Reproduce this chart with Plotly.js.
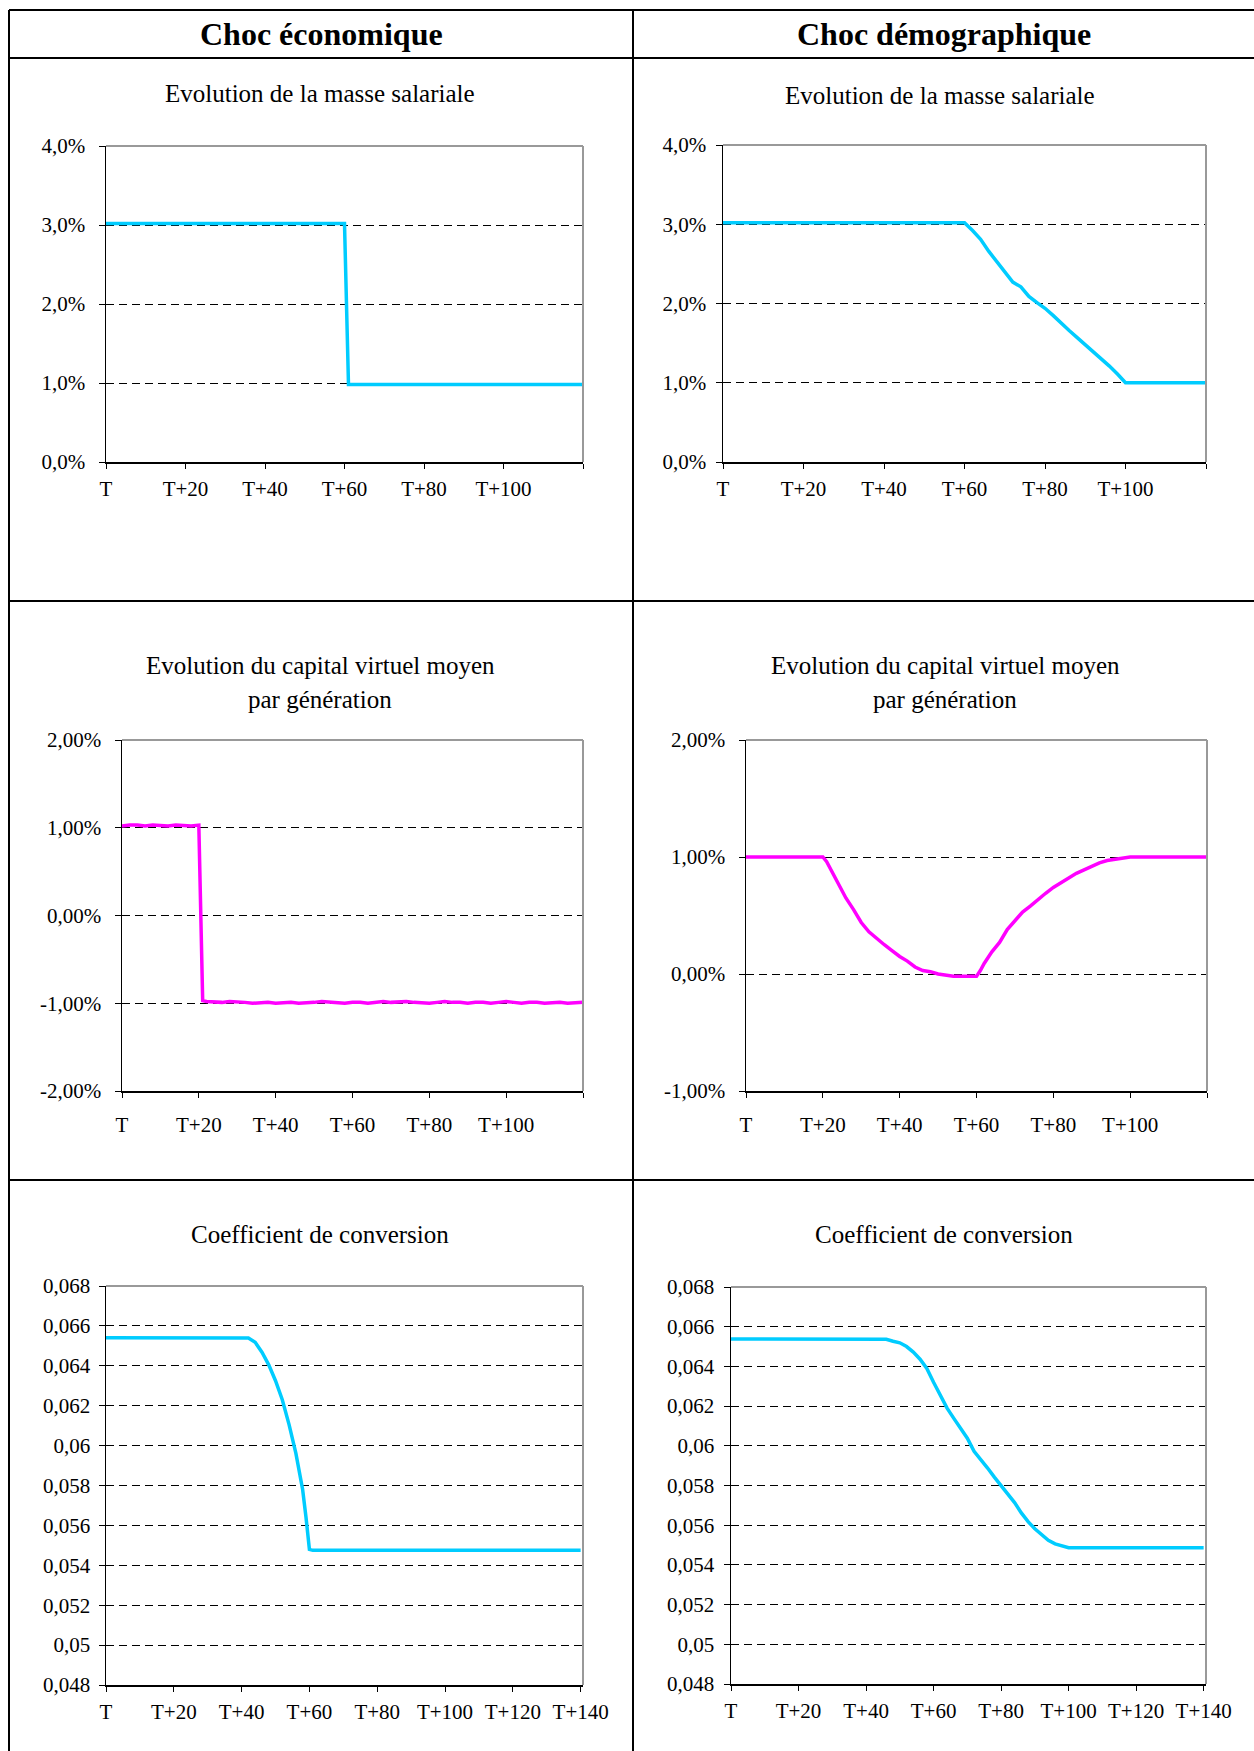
<!DOCTYPE html>
<html><head><meta charset="utf-8">
<script src="https://cdn.plot.ly/plotly-3.0.1.min.js"></script>
<style>html,body{margin:0;padding:0;background:#fff}#chart{width:1254px;height:1751px}</style>
</head><body><div id="chart"></div>
<script>
// ---------------- DATA ----------------
const columnHeaders = ['Choc économique', 'Choc démographique'];
const titleMasse = 'Evolution de la masse salariale';
const titleCapital1 = 'Evolution du capital virtuel moyen';
const titleCapital2 = 'par génération';
const titleCoef = 'Coefficient de conversion';

const xTickVals120 = [0, 20, 40, 60, 80, 100, 120];
const xTickText120 = ['T', 'T+20', 'T+40', 'T+60', 'T+80', 'T+100', ''];
const xTickVals140 = [0, 20, 40, 60, 80, 100, 120, 140];
const xTickText140 = ['T', 'T+20', 'T+40', 'T+60', 'T+80', 'T+100', 'T+120', 'T+140'];

const masseTickVals = [0, 1, 2, 3, 4];
const masseTickText = ['0,0%', '1,0%', '2,0%', '3,0%', '4,0%'];
const capEcoTickVals = [-2, -1, 0, 1, 2];
const capEcoTickText = ['-2,00%', '-1,00%', '0,00%', '1,00%', '2,00%'];
const capDemTickVals = [-1, 0, 1, 2];
const capDemTickText = ['-1,00%', '0,00%', '1,00%', '2,00%'];
const coefTickVals = [0.048, 0.050, 0.052, 0.054, 0.056, 0.058, 0.060, 0.062, 0.064, 0.066, 0.068];
const coefTickText = ['0,048', '0,05', '0,052', '0,054', '0,056', '0,058', '0,06', '0,062', '0,064', '0,066', '0,068'];

// Choc économique - masse salariale (%)
const ecoMasseT = [0, 60, 61, 120];
const ecoMasseV = [3.02, 3.02, 0.98, 0.98];

// Choc démographique - masse salariale (%)
const demMasseT = [0, 60, 62, 64, 66, 68, 70, 72, 74, 76, 78, 80, 82, 84, 86, 88, 90, 92, 94, 96, 98, 100, 120];
const demMasseV = [3.02, 3.02, 2.92, 2.81, 2.66, 2.53, 2.41, 2.27, 2.21, 2.09, 2.01, 1.94, 1.85, 1.75, 1.66, 1.57, 1.48, 1.40, 1.31, 1.21, 1.11, 1.00, 1.00];

// Choc économique - capital virtuel moyen (%)
const ecoCapT = [0, 2, 4, 6, 8, 10, 12, 14, 16, 18, 20, 21,
  22, 24, 26, 28, 30, 32, 34, 36, 38, 40,
  42, 44, 46, 48, 50, 52, 54, 56, 58, 60,
  62, 64, 66, 68, 70, 72, 74, 76, 78, 80,
  82, 84, 86, 88, 90, 92, 94, 96, 98, 100,
  102, 104, 106, 108, 110, 112, 114, 116, 118, 120];
const ecoCapV = [1.02, 1.03, 1.03, 1.02, 1.03, 1.02, 1.02, 1.03, 1.02, 1.02, 1.03, -0.97,
  -0.98, -0.99, -0.99, -0.98, -0.98, -0.99, -1.00, -0.99, -0.99, -1.00,
  -0.99, -0.99, -1.00, -0.99, -0.99, -0.98, -0.99, -0.99, -1.00, -0.99,
  -0.99, -1.00, -0.99, -0.98, -0.99, -0.98, -0.98, -0.99, -1.00, -1.00,
  -0.99, -0.98, -0.99, -0.99, -1.00, -0.99, -0.99, -1.00, -0.99, -0.98,
  -0.99, -1.00, -0.99, -0.99, -1.00, -0.99, -0.99, -1.00, -0.99, -0.99];

// Choc démographique - capital virtuel moyen (%)
const demCapT = [0, 20, 21, 22, 24, 26, 28, 30, 32, 34, 36, 38, 40, 42, 44, 46, 48, 50, 52, 54, 56, 58, 60,
  61, 62, 64, 66, 68, 70, 72, 74, 76, 78, 80, 82, 84, 86, 88, 90, 92, 94, 96, 98, 100, 120];
const demCapV = [1.00, 1.00, 0.96, 0.90, 0.77, 0.65, 0.55, 0.44, 0.36, 0.30, 0.25, 0.20, 0.15, 0.11, 0.06, 0.03, 0.02, 0.00, -0.01, -0.02, -0.02, -0.02, -0.02,
  0.03, 0.09, 0.19, 0.27, 0.38, 0.45, 0.53, 0.58, 0.64, 0.69, 0.74, 0.78, 0.82, 0.86, 0.89, 0.92, 0.95, 0.97, 0.98, 0.99, 1.00, 1.00];

// Choc économique - coefficient de conversion
const ecoCoefT = [0, 42, 44, 46, 48, 50, 52, 54, 56, 58, 59, 60, 61, 140];
const ecoCoefV = [0.06540, 0.06539, 0.06518, 0.06468, 0.06405, 0.06325, 0.06230, 0.06105, 0.05962, 0.05780, 0.05640, 0.05480, 0.05475, 0.05475];

// Choc démographique - coefficient de conversion
const demCoefT = [0, 46, 48, 50, 52, 54, 56, 58, 60, 62, 64, 66, 68, 70, 72, 74, 76, 78, 80, 82, 84, 86, 88, 90, 92, 94, 96, 98, 100, 140];
const demCoefV = [0.06538, 0.06537, 0.06527, 0.06519, 0.06500, 0.06472, 0.06436, 0.06390, 0.06320, 0.06250, 0.06190, 0.06138, 0.06088, 0.06038, 0.05972, 0.05932, 0.05888, 0.05842, 0.05800, 0.05752, 0.05714, 0.05662, 0.05618, 0.05582, 0.05550, 0.05524, 0.05506, 0.05495, 0.05487, 0.05487];

// ---------------- LAYOUT ----------------
const W = 1254, H = 1751;
const FONT = '"Liberation Serif", "Times New Roman", Times, serif';
const CYAN = '#00CCFF', MAGENTA = '#FF00FF';
const px = x => x / W;
const py = y => 1 - y / H;

const panels = [
  {box: [106, 146, 583, 462], xr: [0, 120], xv: xTickVals120, xt: xTickText120, yr: [0, 4], yv: masseTickVals, yt: masseTickText, ys: 9, xs: 2, t: ecoMasseT, v: ecoMasseV, c: CYAN},
  {box: [723, 145, 1206, 462], xr: [0, 120], xv: xTickVals120, xt: xTickText120, yr: [0, 4], yv: masseTickVals, yt: masseTickText, ys: 5, xs: 2, t: demMasseT, v: demMasseV, c: CYAN},
  {box: [122, 740, 583, 1091], xr: [0, 120], xv: xTickVals120, xt: xTickText120, yr: [-2, 2], yv: capEcoTickVals, yt: capEcoTickText, ys: 9, xs: 9, t: ecoCapT, v: ecoCapV, c: MAGENTA},
  {box: [746, 740, 1207, 1091], xr: [0, 120], xv: xTickVals120, xt: xTickText120, yr: [-1, 2], yv: capDemTickVals, yt: capDemTickText, ys: 9, xs: 9, t: demCapT, v: demCapV, c: MAGENTA},
  {box: [106, 1286, 583, 1685], xr: [0, 140.7], xv: xTickVals140, xt: xTickText140, yr: [0.048, 0.068], yv: coefTickVals, yt: coefTickText, ys: 4, xs: 2, t: ecoCoefT, v: ecoCoefV, c: CYAN},
  {box: [731, 1287, 1206, 1684], xr: [0, 140.7], xv: xTickVals140, xt: xTickText140, yr: [0.048, 0.068], yv: coefTickVals, yt: coefTickText, ys: 5, xs: 2, t: demCoefT, v: demCoefV, c: CYAN}
];

const tickFont = {family: FONT, size: 21, color: '#000'};
const layout = {
  width: W, height: H,
  margin: {l: 0, r: 0, t: 0, b: 0},
  paper_bgcolor: '#fff', plot_bgcolor: '#fff',
  showlegend: false,
  font: {family: FONT, color: '#000'},
  shapes: [], annotations: []
};
const traces = [];

panels.forEach((p, i) => {
  const n = i + 1;
  const xa = 'xaxis' + (n === 1 ? '' : n), ya = 'yaxis' + (n === 1 ? '' : n);
  const xr = 'x' + (n === 1 ? '' : n), yr = 'y' + (n === 1 ? '' : n);
  const [l, t, r, b] = p.box;
  layout[xa] = {
    domain: [px(l), px(r)], anchor: yr, range: p.xr, fixedrange: true,
    tickmode: 'array', tickvals: p.xv, ticktext: p.xt,
    ticks: 'outside', ticklen: 5, tickwidth: 1, tickcolor: '#000',
    showline: true, linecolor: '#000', linewidth: 1.5,
    showgrid: false, zeroline: false, tickfont: tickFont, ticklabelstandoff: p.xs
  };
  layout[ya] = {
    domain: [py(b), py(t)], anchor: xr, range: p.yr, fixedrange: true,
    tickmode: 'array', tickvals: p.yv, ticktext: p.yt,
    ticks: 'outside', ticklen: 6, tickwidth: 1, tickcolor: '#000',
    showline: true, linecolor: '#000', linewidth: 1.5,
    showgrid: true, gridcolor: '#000', gridwidth: 1, griddash: '8px,5px',
    zeroline: false, tickfont: tickFont, ticklabelstandoff: p.ys
  };
  // gray frame top & right
  layout.shapes.push({type: 'line', xref: xr + ' domain', yref: yr + ' domain', x0: 0, x1: 1, y0: 1, y1: 1, line: {color: '#999', width: 2}, layer: 'above'});
  layout.shapes.push({type: 'line', xref: xr + ' domain', yref: yr + ' domain', x0: 1, x1: 1, y0: 0, y1: 1, line: {color: '#999', width: 2}, layer: 'above'});
  traces.push({x: p.t, y: p.v, xaxis: xr, yaxis: yr, type: 'scatter', mode: 'lines', line: {color: p.c, width: 3.5}, hoverinfo: 'skip'});
});

// table lines
const tl = (x0, y0, x1, y1) => ({type: 'line', xref: 'paper', yref: 'paper', x0: px(x0), y0: py(y0), x1: px(x1), y1: py(y1), line: {color: '#000', width: 2}, layer: 'above'});
layout.shapes.push(tl(9, 10, 1254, 10));
layout.shapes.push(tl(9, 58, 1254, 58));
layout.shapes.push(tl(9, 601, 1254, 601));
layout.shapes.push(tl(9, 1180, 1254, 1180));
layout.shapes.push(tl(9, 10, 9, 1751));
layout.shapes.push(tl(633, 10, 633, 1751));

const ann = (text, x, y, size, bold) => ({
  text: bold ? '<b>' + text + '</b>' : text, xref: 'paper', yref: 'paper', x: px(x), y: py(y),
  xanchor: 'center', yanchor: 'middle', showarrow: false,
  font: {family: FONT, size: size, color: '#000'}
});
layout.annotations.push(ann(columnHeaders[0], 321, 34, 32, true));
layout.annotations.push(ann(columnHeaders[1], 944, 34, 32, true));
layout.annotations.push(ann(titleMasse, 320, 94, 25));
layout.annotations.push(ann(titleMasse, 940, 95, 25));
layout.annotations.push(ann(titleCapital1, 320, 665, 25));
layout.annotations.push(ann(titleCapital2, 320, 700, 25));
layout.annotations.push(ann(titleCapital1, 945, 665, 25));
layout.annotations.push(ann(titleCapital2, 945, 700, 25));
layout.annotations.push(ann(titleCoef, 320, 1234, 25));
layout.annotations.push(ann(titleCoef, 944, 1234, 25));

Plotly.newPlot('chart', traces, layout, {staticPlot: true, displayModeBar: false});
</script>
</body></html>
